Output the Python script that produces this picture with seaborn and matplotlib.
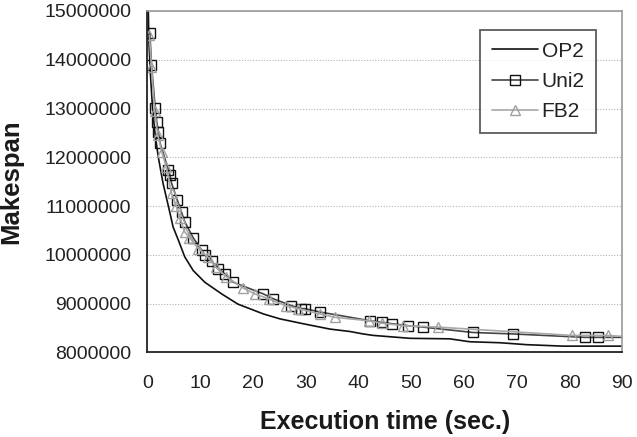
import matplotlib
matplotlib.use("Agg")
import matplotlib.pyplot as plt
import matplotlib.ticker as mticker
import seaborn as sns
import pandas as pd

# ---- data ----
op2_time = [0.2, 0.3, 0.6, 1.0, 1.5, 2.1, 3.0, 4.0, 4.9, 5.9, 7.1, 8.7, 10.9, 14.1,
            17.2, 22.0, 25.1, 29.5, 34.6, 38.4, 40.9, 42.8, 49.8, 57.3, 61.1, 66.8,
            71.9, 78.8, 90.0]
op2_makespan = [15.0e6, 14.4e6, 13.7e6, 13.0e6, 12.45e6, 12.0e6, 11.46e6, 11.0e6,
                10.57e6, 10.3e6, 9.96e6, 9.68e6, 9.44e6, 9.2e6, 8.99e6, 8.79e6,
                8.69e6, 8.59e6, 8.48e6, 8.43e6, 8.38e6, 8.35e6, 8.29e6, 8.28e6,
                8.22e6, 8.2e6, 8.16e6, 8.13e6, 8.13e6]

uni2_time = [0.5, 0.8, 1.5, 1.8, 2.1, 2.4, 4.0, 4.3, 4.6, 5.7, 6.5, 7.1, 8.7, 10.3,
             10.9, 12.2, 13.4, 14.7, 16.3, 22.0, 23.9, 27.3, 29.2, 29.8, 32.7, 42.2,
             44.4, 46.3, 49.4, 52.3, 61.7, 69.3, 82.9, 85.4, 90.0]
uni2_makespan = [14.54e6, 13.89e6, 13.02e6, 12.73e6, 12.52e6, 12.3e6, 11.74e6,
                 11.63e6, 11.47e6, 11.12e6, 10.87e6, 10.68e6, 10.35e6, 10.1e6,
                 10.0e6, 9.87e6, 9.71e6, 9.61e6, 9.44e6, 9.2e6, 9.1e6, 8.96e6,
                 8.9e6, 8.9e6, 8.83e6, 8.65e6, 8.62e6, 8.59e6, 8.55e6, 8.52e6,
                 8.41e6, 8.38e6, 8.31e6, 8.31e6, 8.31e6]

fb2_time = [0.4, 0.8, 1.4, 2.0, 2.8, 3.6, 4.6, 5.5, 6.2, 7.1, 8.0, 9.7, 11.5, 13.0,
            15.0, 18.2, 20.4, 23.0, 26.2, 28.5, 32.7, 35.6, 42.0, 44.5, 48.5, 55.1,
            80.4, 87.3, 90.0]
fb2_makespan = [14.5e6, 13.85e6, 12.95e6, 12.45e6, 12.1e6, 11.8e6, 11.26e6, 11.0e6,
                10.75e6, 10.47e6, 10.35e6, 10.13e6, 9.95e6, 9.75e6, 9.55e6, 9.32e6,
                9.2e6, 9.1e6, 8.96e6, 8.9e6, 8.79e6, 8.72e6, 8.65e6, 8.6e6, 8.55e6,
                8.52e6, 8.35e6, 8.35e6, 8.33e6]

y_ticks = [8000000, 9000000, 10000000, 11000000, 12000000, 13000000, 14000000, 15000000]
x_ticks = [0, 10, 20, 30, 40, 50, 60, 70, 80, 90]

sns.set_style("white")
plt.rcParams["font.family"] = ["Liberation Sans", "DejaVu Sans"]

fig = plt.figure(figsize=(6.37, 4.37), dpi=100)
ax = fig.add_axes([0.2312, 0.1934, 0.7457, 0.7815])

op2 = pd.DataFrame({"t": op2_time, "m": op2_makespan})
uni2 = pd.DataFrame({"t": uni2_time, "m": uni2_makespan})
fb2 = pd.DataFrame({"t": fb2_time, "m": fb2_makespan})

sns.lineplot(data=op2, x="t", y="m", ax=ax, color="#111111", lw=1.2,
             estimator=None, sort=False, label="OP2")
sns.lineplot(data=uni2, x="t", y="m", ax=ax, color="#444444", lw=1.2,
             marker="s", markersize=7.5, markerfacecolor="none",
             markeredgecolor="#111111", markeredgewidth=1.0,
             markevery=list(range(len(uni2_time) - 1)),
             estimator=None, sort=False, label="Uni2")
sns.lineplot(data=fb2, x="t", y="m", ax=ax, color="#a8a8a8", lw=1.2,
             marker="^", markersize=7.5, markerfacecolor="none",
             markeredgecolor="#a0a0a0", markeredgewidth=1.0,
             markevery=list(range(len(fb2_time) - 1)),
             estimator=None, sort=False, label="FB2")

ax.set_xlim(0, 90)
ax.set_ylim(8000000, 15000000)
ax.set_xticks(x_ticks)
ax.set_yticks(y_ticks)
ax.yaxis.set_major_formatter(mticker.FuncFormatter(lambda v, p: f"{int(round(v))}"))

ax.yaxis.grid(True, linestyle=(0, (1, 1.5)), color="#b4b4b4", lw=0.8)
ax.xaxis.grid(False)

for s in ["left", "bottom"]:
    ax.spines[s].set_color("#222222")
    ax.spines[s].set_linewidth(1.3)
for s in ["top", "right"]:
    ax.spines[s].set_color("#9a9a9a")
    ax.spines[s].set_linewidth(1.2)

ax.tick_params(axis="both", direction="inout", length=7, width=1.1, color="#222222",
               labelsize=14, labelcolor="#222222")
ax.tick_params(axis="y", pad=8)
ax.tick_params(axis="x", pad=13)

ax.set_xlabel("Execution time (sec.)", fontsize=18, fontweight="bold", labelpad=13,
              color="#1a1a1a")
ax.set_ylabel("Makespan", fontsize=18.5, fontweight="bold", labelpad=15, color="#1a1a1a")

leg = ax.legend(loc="upper right", bbox_to_anchor=(0.945, 0.944), borderaxespad=0,
                fontsize=15, frameon=True, fancybox=False, handlelength=2.2,
                handletextpad=0.2, labelspacing=0.55, borderpad=0.55, numpoints=1)
leg.get_frame().set_edgecolor("#333333")
leg.get_frame().set_linewidth(1.3)
for t in leg.get_texts():
    t.set_color("#222222")

fig.savefig("out.png", dpi=100)
